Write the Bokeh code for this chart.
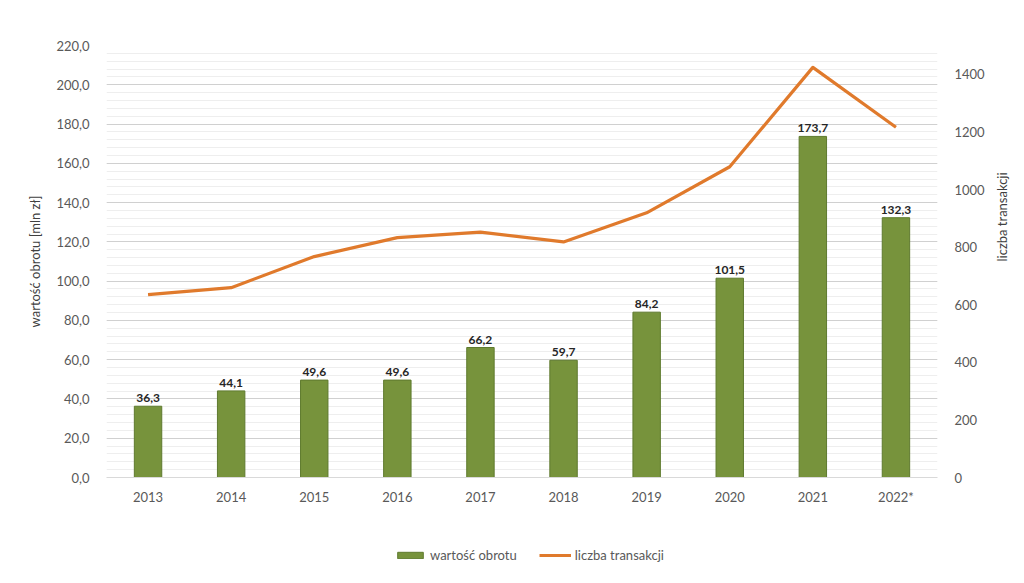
import math
from bokeh.plotting import figure
from bokeh.layouts import column
from bokeh.models import (Range1d, LinearAxis, SingleIntervalTicker, FixedTicker,
                          CustomJSTickFormatter, Legend, LegendItem, ColumnDataSource)
from bokeh.core.properties import value
from bokeh.embed import file_html
from bokeh.resources import INLINE

years = ["2013", "2014", "2015", "2016", "2017", "2018", "2019", "2020", "2021", "2022*"]
turnover = [36.3, 44.1, 49.6, 49.6, 66.2, 59.7, 84.2, 101.5, 173.7, 132.3]
transactions = [635, 659, 767, 833, 852, 818, 919, 1079, 1424, 1216]
right_ticks = [0, 200, 400, 600, 800, 1000, 1200, 1400]
series_names = ["wartość obrotu", "liczba transakcji"]

FONT = "Lato"
TXT = "#595959"
BAR_FILL = "#77933C"
BAR_LINE = "#5E7A2E"
LINE_COL = "#E07A2C"

src = ColumnDataSource(dict(
    x=years, y=turnover, t=transactions,
    lbl=[f"{v:.1f}".replace(".", ",") for v in turnover],
))

p = figure(x_range=years, y_range=Range1d(0, 220), width=1024, height=520,
           output_backend="svg", toolbar_location=None,
           min_border_left=106, min_border_right=87, min_border_top=45, min_border_bottom=43)
p.outline_line_color = None
p.background_fill_color = "white"
p.border_fill_color = "white"

p.extra_y_ranges = {"right": Range1d(0, 1500)}

bars = p.vbar(x="x", top="y", width=0.33, source=src,
              fill_color=BAR_FILL, line_color=BAR_LINE, line_width=1)
line = p.line(x="x", y="t", source=src, y_range_name="right",
              line_color=LINE_COL, line_width=3.2, line_join="round")

p.text(x="x", y="y", text="lbl", source=src, text_align="center", text_baseline="bottom",
       y_offset=-4, text_font=value(FONT), text_font_style="bold",
       text_font_size="12px", text_color="#262626")

# left axis
ya = p.yaxis[0]
ya.ticker = SingleIntervalTicker(interval=20, num_minor_ticks=5)
ya.formatter = CustomJSTickFormatter(code="return tick.toFixed(1).replace('.', ',');")
ya.axis_label = "wartość obrotu [mln zł]"
ya.axis_line_color = None
ya.major_tick_line_color = None
ya.minor_tick_line_color = None
ya.major_label_standoff = 11
ya.major_label_text_font = FONT
ya.major_label_text_font_size = "13px"
ya.major_label_text_color = TXT
ya.axis_label_text_font = FONT
ya.axis_label_text_font_size = "13px"
ya.axis_label_text_font_style = "normal"
ya.axis_label_text_color = "#404040"
ya.axis_label_standoff = 10

# right axis
ra = LinearAxis(y_range_name="right", ticker=FixedTicker(ticks=right_ticks),
                axis_label="liczba transakcji")
ra.axis_line_color = None
ra.major_tick_line_color = None
ra.minor_tick_line_color = None
ra.major_label_standoff = 11
ra.major_label_text_font = FONT
ra.major_label_text_font_size = "13px"
ra.major_label_text_color = TXT
ra.axis_label_text_font = FONT
ra.axis_label_text_font_size = "13px"
ra.axis_label_text_font_style = "normal"
ra.axis_label_text_color = "#404040"
ra.axis_label_standoff = 14
try:
    ra.axis_label_orientation = math.pi / 2
except Exception:
    pass
p.add_layout(ra, "right")

# x axis
xa = p.xaxis[0]
xa.axis_line_color = "#d9d9d9"
xa.major_tick_line_color = None
xa.minor_tick_line_color = None
xa.major_label_standoff = 5
xa.major_label_text_font = FONT
xa.major_label_text_font_size = "13px"
xa.major_label_text_color = TXT

# grids
p.xgrid.grid_line_color = None
p.ygrid.grid_line_color = "#d0d0d0"
p.ygrid.grid_line_width = 1
p.ygrid.minor_grid_line_color = "#eeeeee"
p.ygrid.minor_grid_line_width = 1

# legend strip
q = figure(width=1024, height=60, x_range=Range1d(0, 1), y_range=Range1d(0, 1),
           x_axis_type=None, y_axis_type=None,
           output_backend="svg", toolbar_location=None,
           min_border_left=0, min_border_right=0, min_border_top=0, min_border_bottom=0)
q.grid.visible = False
q.outline_line_color = None
q.background_fill_color = "white"
q.border_fill_color = "white"
dummy = ColumnDataSource(dict(x=[float("nan")], y=[float("nan")]))
lb = q.vbar(x="x", top="y", width=0.1, source=dummy, fill_color=BAR_FILL, line_color=BAR_LINE)
ll = q.line(x="x", y="y", source=dummy, line_color=LINE_COL, line_width=3)
legend = Legend(items=[LegendItem(label=series_names[0], renderers=[lb]),
                       LegendItem(label=series_names[1], renderers=[ll])],
                orientation="horizontal", location=(288, 17),
                label_text_font=FONT, label_text_font_size="13px", label_text_color=TXT,
                glyph_width=32, glyph_height=8, spacing=22, label_standoff=4,
                border_line_color=None, background_fill_alpha=0, margin=0, padding=4)
q.add_layout(legend)

open("out.html", "w").write(file_html(column(p, q, spacing=0), INLINE))
